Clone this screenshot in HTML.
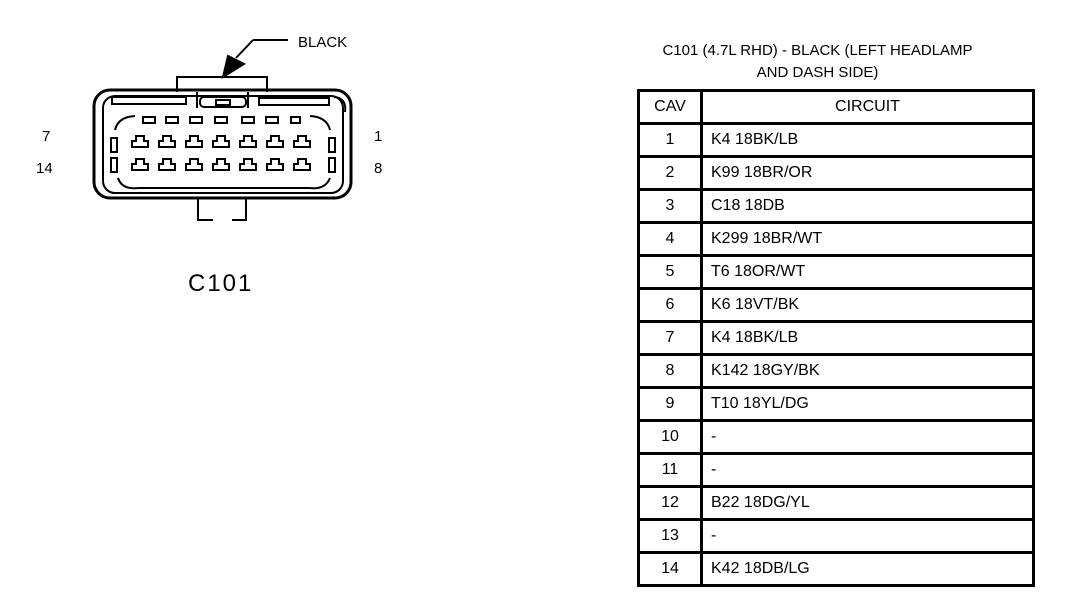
<!DOCTYPE html><html><head><style>
body{margin:0;width:1072px;height:608px;background:#fff;position:relative;font-family:"Liberation Sans",sans-serif;overflow:hidden}
.t{position:absolute;color:#000}
table{position:absolute;left:637px;top:89px;border-collapse:collapse;width:398px}
td{border:3px solid #000;height:30px;padding:0;font-size:16px;line-height:16px;box-sizing:content-box}
td.c{width:60px;text-align:center}
td.d{padding-left:8px}
</style></head><body>
<svg width="1072" height="608" style="position:absolute;left:0;top:0" fill="none" stroke="#000" stroke-width="2">
<path d="M253 40 H288"/>
<path d="M253 40 L236 58"/>
<polygon points="223,77 228,56 244,64" fill="#000"/>
<rect x="94" y="90" width="257" height="108" rx="16" stroke-width="3"/>
<rect x="103" y="96" width="240" height="97" rx="12"/>
<path d="M177 92 V77 H267 V92"/>
<path d="M197 92 V108 M248 92 V108"/>
<rect x="200" y="97" width="46" height="10" rx="4"/>
<rect x="216" y="100" width="14" height="5"/>
<rect x="112" y="97" width="74" height="7"/>
<rect x="259" y="98" width="70" height="7"/>
<path d="M334 97 Q347 98 345 112"/>
<rect x="143" y="117" width="12" height="6"/><rect x="166" y="117" width="12" height="6"/><rect x="190" y="117" width="12" height="6"/><rect x="215" y="117" width="12" height="6"/><rect x="242" y="117" width="12" height="6"/><rect x="266" y="117" width="12" height="6"/><rect x="291" y="117" width="9" height="6"/>
<path d="M115 130 Q118 117 135 116"/><path d="M310 116 Q327 117 330 130"/>
<rect x="111" y="138" width="6" height="14"/><rect x="111" y="158" width="6" height="14"/>
<rect x="329" y="138" width="6" height="14"/><rect x="329" y="158" width="6" height="14"/>
<path d="M118 178 Q122 190 138 188 H310 Q325 190 330 178"/>
<path d="M198 198 V220 H213 M246 198 V220 H232"/>
<path d="M132 147 h16 v-6 h-4 v-5 h-8 v5 h-4z"/><path d="M159 147 h16 v-6 h-4 v-5 h-8 v5 h-4z"/><path d="M186 147 h16 v-6 h-4 v-5 h-8 v5 h-4z"/><path d="M213 147 h16 v-6 h-4 v-5 h-8 v5 h-4z"/><path d="M240 147 h16 v-6 h-4 v-5 h-8 v5 h-4z"/><path d="M267 147 h16 v-6 h-4 v-5 h-8 v5 h-4z"/><path d="M294 147 h16 v-6 h-4 v-5 h-8 v5 h-4z"/>
<path d="M132 170 h16 v-6 h-4 v-5 h-8 v5 h-4z"/><path d="M159 170 h16 v-6 h-4 v-5 h-8 v5 h-4z"/><path d="M186 170 h16 v-6 h-4 v-5 h-8 v5 h-4z"/><path d="M213 170 h16 v-6 h-4 v-5 h-8 v5 h-4z"/><path d="M240 170 h16 v-6 h-4 v-5 h-8 v5 h-4z"/><path d="M267 170 h16 v-6 h-4 v-5 h-8 v5 h-4z"/><path d="M294 170 h16 v-6 h-4 v-5 h-8 v5 h-4z"/>
</svg>
<div class="t" style="left:298px;top:34px;font-size:15px">BLACK</div>
<div class="t" style="left:42px;top:128px;font-size:15px">7</div>
<div class="t" style="left:36px;top:160px;font-size:15px">14</div>
<div class="t" style="left:374px;top:128px;font-size:15px">1</div>
<div class="t" style="left:374px;top:160px;font-size:15px">8</div>
<div class="t" style="left:188px;top:270px;font-size:24px;letter-spacing:2px">C101</div>
<div class="t" style="left:600px;top:40px;width:435px;text-align:center;font-size:15px;line-height:22px">C101 (4.7L RHD) - BLACK (LEFT HEADLAMP<br>AND DASH SIDE)</div>
<table>
<tr><td class="c">CAV</td><td style="text-align:center">CIRCUIT</td></tr>
<tr><td class="c">1</td><td class="d">K4 18BK/LB</td></tr>
<tr><td class="c">2</td><td class="d">K99 18BR/OR</td></tr>
<tr><td class="c">3</td><td class="d">C18 18DB</td></tr>
<tr><td class="c">4</td><td class="d">K299 18BR/WT</td></tr>
<tr><td class="c">5</td><td class="d">T6 18OR/WT</td></tr>
<tr><td class="c">6</td><td class="d">K6 18VT/BK</td></tr>
<tr><td class="c">7</td><td class="d">K4 18BK/LB</td></tr>
<tr><td class="c">8</td><td class="d">K142 18GY/BK</td></tr>
<tr><td class="c">9</td><td class="d">T10 18YL/DG</td></tr>
<tr><td class="c">10</td><td class="d">-</td></tr>
<tr><td class="c">11</td><td class="d">-</td></tr>
<tr><td class="c">12</td><td class="d">B22 18DG/YL</td></tr>
<tr><td class="c">13</td><td class="d">-</td></tr>
<tr><td class="c">14</td><td class="d">K42 18DB/LG</td></tr>
</table>
</body></html>
